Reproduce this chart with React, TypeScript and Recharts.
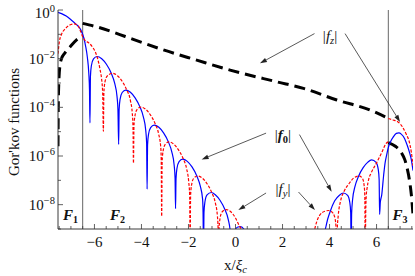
import React from 'react';
import { LineChart, Line, XAxis, YAxis, ReferenceLine, ReferenceDot } from 'recharts';

const W = 415;
const H = 276;
const FONT = '"Liberation Serif","Times New Roman",serif';
const AXIS = '#3a3a3a';

// x positions (x / xi_c) and log10 values; null = break
const f0X = [
  -7.55, -7.4, -7.2, -7.0, -6.8, -6.6, -6.45, -6.38, -6.3, -6.24, -6.21, -6.19,
  -6.17, -6.13, -6.04, -5.89, -5.69, -5.49, -5.29, -5.14, -5.04, -5.0, -4.97,
  -4.95, -4.91, -4.82, -4.67, -4.47, -4.27, -4.07, -3.92, -3.82, -3.78, -3.76,
  -3.74, -3.7, -3.61, -3.46, -3.26, -3.06, -2.86, -2.71, -2.61, -2.57, -2.55,
  -2.53, -2.49, -2.4, -2.25, -2.05, -1.85, -1.65, -1.5, -1.4, -1.38, -1.36,
  -1.34, -1.3, -1.21, -1.03, -0.86, -0.66, -0.46, -0.31, -0.22, -0.2, -0.18,
  -0.16, -0.12, -0.03, 0.1, 0.22, 0.35, 0.45, 0.55,
  3.71, 3.73, 3.77, 3.87, 4.02, 4.22, 4.42, 4.59, 4.77, 4.86, 4.9, 4.92,
  4.94, 4.98, 5.08, 5.23, 5.43, 5.63, 5.79, 5.98, 6.07, 6.11, 6.13,
  6.16, 6.22, 6.3, 6.36, 6.43, 6.51, 6.6, 6.69, 6.84, 6.95, 7.05, 7.19, 7.3, 7.4, 7.48, 7.55,
];
const f0Log = [
  -0.1, -0.15, -0.25, -0.4, -0.57, -0.78, -1.15, -1.46, -1.95, -2.6, -3.3, -4.64,
  -2.72, -2.29, -2.01, -1.91, -2.0, -2.23, -2.59, -3.01, -3.55, -4.1, -5.52,
  -4.1, -3.67, -3.39, -3.29, -3.38, -3.61, -3.97, -4.39, -4.93, -5.48, -7.36,
  -5.54, -5.11, -4.83, -4.73, -4.82, -5.05, -5.41, -5.83, -6.37, -6.92, -8.16,
  -6.94, -6.51, -6.23, -6.13, -6.22, -6.45, -6.81, -7.23, -7.77, -8.32, -10,
  -8.31, -7.88, -7.6, -7.5, -7.59, -7.82, -8.18, -8.6, -9.14, -9.69, -10,
  -9.71, -9.28, -9.05, -8.92, -8.9, -9.0, -9.25, -10,
  -10, -10, -9.4, -8.8, -8.3, -7.84, -7.61, -7.52, -7.62, -7.9, -8.33, -10,
  -8.35, -7.8, -7.26, -6.84, -6.48, -6.25, -6.16, -6.26, -6.54, -6.97, -8.4,
  -7.9, -7.6, -6.8, -6.3, -5.95, -5.62, -5.4, -5.25, -5.07, -5.05, -5.1, -5.28, -5.55, -5.85, -6.16, -6.6,
];

const fyX = [
  -7.55, -7.5, -7.4, -7.25, -7.05, -6.85, -6.7, -6.6, -6.5, -6.4, -6.24, -6.1, -5.96, -5.85, -5.76, -5.7, -5.65, -5.62,
  -5.6, -5.56, -5.46, -5.24, -5.02, -4.82, -4.62, -4.47, -4.39, -4.36, -4.34,
  -4.32, -4.28, -4.19, -4.02, -3.82, -3.62, -3.42, -3.27, -3.18, -3.16, -3.14,
  -3.12, -3.08, -2.99, -2.83, -2.63, -2.43, -2.23, -2.08, -1.99, -1.95, -1.93,
  -1.91, -1.87, -1.78, -1.61, -1.41, -1.21, -1.01, -0.86, -0.77, -0.74, -0.72,
  -0.7, -0.66, -0.57, -0.4, -0.2, 0.0, 0.15, 0.25, 0.35,
  3.2, 3.35, 3.57, 3.8, 3.97, 4.1, 4.21, 4.27, 4.3, 4.31,
  4.33, 4.37, 4.47, 4.62, 4.82, 5.02, 5.25, 5.4, 5.47, 5.5, 5.52,
  5.54, 5.56, 5.6, 5.66, 5.77, 5.99, 6.2, 6.41, 6.49,
  6.495,
  6.5, 6.7, 6.91, 7.1, 7.26, 7.4, 7.48, 7.55,
];
const fyLog = [
  -1.8, -1.35, -1.0, -0.78, -0.62, -0.57, -0.65, -0.85, -1.1, -1.25, -1.35, -1.5, -1.73, -2.05, -2.45, -2.8, -3.4, -4.98,
  -3.45, -3.0, -2.72, -2.6, -2.7, -2.93, -3.3, -3.72, -4.25, -4.8, -6.29,
  -4.8, -4.37, -4.09, -3.99, -4.08, -4.31, -4.67, -5.09, -5.63, -6.1, -8.48,
  -6.23, -5.8, -5.52, -5.42, -5.51, -5.74, -6.1, -6.52, -7.06, -7.61, -10,
  -7.63, -7.2, -6.92, -6.82, -6.91, -7.14, -7.5, -7.92, -8.46, -9.01, -10,
  -9.01, -8.58, -8.3, -8.2, -8.29, -8.55, -8.85, -9.05, -10,
  -10, -9.1, -8.45, -8.27, -8.24, -8.3, -8.48, -8.85, -9.4, -10,
  -9.0, -8.45, -7.85, -7.45, -7.15, -6.91, -6.82, -6.92, -7.2, -7.63, -10,
  -8.3, -7.66, -7.3, -6.98, -6.7, -6.3, -5.9, -5.48, -5.42,
  null,
  -4.46, -4.52, -4.6, -4.8, -5.1, -5.45, -5.85, -6.4,
];

const fzX = [
  -7.55, -7.54, -7.52, -7.47, -7.4, -7.26, -7.04, -6.76, -6.52,
  -6.51,
  -6.5, -5.91, -5.06, -4.49, -3.07, -1.65, -0.23, 1.75, 2.89, 4.31, 5.72, 6.49,
  6.495,
  6.5, 6.8, 7.05, 7.2, 7.3, 7.4, 7.48, 7.55,
];
const fzLog = [
  -5.6, -4.1, -3.1, -2.3, -2.0, -1.77, -1.52, -1.23, -1.08,
  null,
  -0.55, -0.69, -0.96, -1.16, -1.64, -2.06, -2.47, -2.95, -3.22, -3.7, -4.11, -4.45,
  null,
  -5.45, -5.6, -5.85, -6.15, -6.5, -7.0, -7.6, -8.4,
];

const xTicks = [-7.5, -7, -6.5, -6, -5.5, -5, -4.5, -4, -3.5, -3, -2.5, -2, -1.5, -1, -0.5, 0, 0.5, 1, 1.5, 2, 2.5, 3, 3.5, 4, 4.5, 5, 5.5, 6, 6.5, 7, 7.5];
const xMajor = [-6, -4, -2, 0, 2, 4, 6];
const yExps = [0, -1, -2, -3, -4, -5, -6, -7, -8, -9];
const yMajorExps = [0, -2, -4, -6, -8];
const walls = [-6.5, 6.5];

// annotations: [label, sub, x, log10 y]
const labelSpecs = [
  { sub: 'z', x: 4.02, lg: -1.27, bold: false },
  { sub: '0', x: 2.02, lg: -5.36, bold: true },
  { sub: 'y', x: 2.02, lg: -7.58, bold: false },
];
// arrows: from (x, lg) to (x, lg)
const arrowSpecs = [
  [3.36, -0.97, 1.04, -2.19],
  [4.66, -0.97, 7.0, -4.6],
  [1.3, -5.06, -1.44, -6.14],
  [2.72, -5.12, 4.09, -7.47],
  [1.3, -7.52, 0.12, -8.22],
  [2.68, -7.48, 3.38, -8.22],
];
const regionSpecs = [
  { n: '1', x: -7.02, lg: -8.64 },
  { n: '2', x: -5.02, lg: -8.64 },
  { n: '3', x: 7.0, lg: -8.64 },
];

const toData = (xs: number[], lg: (number | null)[]) =>
  xs.map((x, i) => ({ x, y: lg[i] === null ? null : Math.pow(10, lg[i] as number) }));

const f0Data = toData(f0X, f0Log);
const fyData = toData(fyX, fyLog);
const fzData = toData(fzX, fzLog);
const yTicks = yExps.map((e) => Number(`1e${e}`));
const p10 = (e: number) => Math.pow(10, e);

const expOf = (v: number) => Math.round(Math.log10(v));

const XTickBottom = (props: any) => {
  const { x, y, payload } = props;
  const v = payload.value;
  const major = xMajor.includes(v);
  return (
    <g>
      <line x1={x} x2={x} y1={y} y2={y - (major ? 5 : 3)} stroke={AXIS} strokeWidth={0.8} />
      {major && (
        <text x={x} y={y + 18} textAnchor="middle" fontFamily={FONT} fontSize={15} fill="#111">
          {v < 0 ? `\u2212${-v}` : `${v}`}
        </text>
      )}
    </g>
  );
};
const XTickTop = (props: any) => {
  const { x, y, payload } = props;
  const major = xMajor.includes(payload.value);
  return <line x1={x} x2={x} y1={y} y2={y + (major ? 5 : 3)} stroke={AXIS} strokeWidth={0.8} />;
};
const YTickLeft = (props: any) => {
  const { x, y, payload } = props;
  const e = expOf(payload.value);
  const major = yMajorExps.includes(e);
  const dy = e === 0 ? 8 : 5;
  return (
    <g>
      <line x1={x} x2={x + (major ? 5 : 3)} y1={y} y2={y} stroke={AXIS} strokeWidth={0.8} />
      {major && (
        <text x={x - 3} y={y + dy} textAnchor="end" fontFamily={FONT} fontSize={15} fill="#111">
          <tspan>10</tspan>
          <tspan dy={-6} fontSize={10.5}>{e < 0 ? `\u2212${-e}` : `${e}`}</tspan>
        </text>
      )}
    </g>
  );
};
const YTickRight = (props: any) => {
  const { x, y, payload } = props;
  const major = yMajorExps.includes(expOf(payload.value));
  return <line x1={x} x2={x - (major ? 5 : 3)} y1={y} y2={y} stroke={AXIS} strokeWidth={0.8} />;
};

const Arrow = (p: any) => {
  const { x1, y1, x2, y2 } = p;
  if ([x1, y1, x2, y2].some((v) => typeof v !== 'number' || isNaN(v))) return <g />;
  const a = Math.atan2(y2 - y1, x2 - x1);
  const L = 7;
  const w = 2.3;
  const bx = x2 - L * Math.cos(a);
  const by = y2 - L * Math.sin(a);
  const px = -Math.sin(a) * w;
  const py = Math.cos(a) * w;
  return (
    <g>
      <line x1={x1} y1={y1} x2={bx} y2={by} stroke="#222" strokeWidth={0.75} />
      <polygon points={`${x2},${y2} ${bx + px},${by + py} ${bx - px},${by - py}`} fill="#222" />
    </g>
  );
};

const makeFLabel = (sub: string, bold: boolean) => (p: any) => (
  <text x={p.cx} y={p.cy} textAnchor="middle" fontFamily={FONT} fontSize={15} fill="#111">
    <tspan>|</tspan>
    <tspan fontStyle="italic" fontWeight={bold ? 'bold' : 'normal'}>f</tspan>
    <tspan fontSize={10.5} dy={3} fontStyle={bold ? 'normal' : 'italic'} fontWeight={bold ? 'bold' : 'normal'}>{sub}</tspan>
    <tspan dy={-3}>|</tspan>
  </text>
);

const makeRegion = (n: string) => (p: any) => (
  <text x={p.cx} y={p.cy} textAnchor="middle" fontFamily={FONT} fontSize={15} fontWeight="bold" fill="#111">
    <tspan fontStyle="italic">F</tspan>
    <tspan fontSize={10} dy={3}>{n}</tspan>
  </text>
);

const YTitle = (p: any) => (
  <text
    x={19}
    y={p.cy}
    transform={`rotate(-90 19 ${p.cy})`}
    textAnchor="middle"
    fontFamily={FONT}
    fontSize={15}
    fill="#111"
  >
    Gor&#39;kov functions
  </text>
);
const XTitle = (p: any) => (
  <text x={p.cx} y={p.cy + 41} textAnchor="middle" fontFamily={FONT} fontSize={15} fill="#111">
    <tspan>x/</tspan>
    <tspan fontStyle="italic">ξ</tspan>
    <tspan fontStyle="italic" fontSize={10.5} dy={3}>c</tspan>
  </text>
);

export default function App() {
  return (
    <div style={{ position: 'absolute', left: 0, top: 0, width: W, height: H, background: '#fff' }}>
      <LineChart width={W} height={H} margin={{ top: 10, right: 2, bottom: 0, left: 0 }}>
        <XAxis
          dataKey="x"
          type="number"
          domain={[-7.55, 7.55]}
          allowDataOverflow
          ticks={xTicks}
          interval={0}
          tickSize={0}
          tickMargin={0}
          tick={XTickBottom}
          height={47}
          axisLine={{ stroke: AXIS, strokeWidth: 1 }}
          tickLine={false}
        />
        <XAxis
          xAxisId="t"
          orientation="top"
          dataKey="x"
          type="number"
          domain={[-7.55, 7.55]}
          allowDataOverflow
          ticks={xTicks}
          interval={0}
          tickSize={0}
          tickMargin={0}
          tick={XTickTop}
          height={0}
          axisLine={{ stroke: AXIS, strokeWidth: 1 }}
          tickLine={false}
        />
        <YAxis
          type="number"
          scale="log"
          domain={[1e-9, 1]}
          allowDataOverflow
          ticks={yTicks}
          interval={0}
          tickSize={0}
          tickMargin={0}
          tick={YTickLeft}
          width={58}
          axisLine={{ stroke: AXIS, strokeWidth: 1 }}
          tickLine={false}
        />
        <YAxis
          yAxisId="r"
          orientation="right"
          type="number"
          scale="log"
          domain={[1e-9, 1]}
          allowDataOverflow
          ticks={yTicks}
          interval={0}
          tickSize={0}
          tickMargin={0}
          tick={YTickRight}
          width={0}
          axisLine={{ stroke: AXIS, strokeWidth: 1 }}
          tickLine={false}
        />
        {walls.map((w) => (
          <ReferenceLine key={w} x={w} stroke="#555" strokeWidth={0.9} />
        ))}
        <Line
          data={fzData}
          dataKey="y"
          type="monotone"
          stroke="#000"
          strokeWidth={3}
          strokeDasharray="11 6"
          dot={false}
          activeDot={false}
          isAnimationActive={false}
        />
        <Line
          data={f0Data}
          dataKey="y"
          type="monotone"
          stroke="#0000ff"
          strokeWidth={1.2}
          dot={false}
          activeDot={false}
          isAnimationActive={false}
        />
        <Line
          data={fyData}
          dataKey="y"
          type="monotone"
          stroke="#ff0000"
          strokeWidth={1.2}
          strokeDasharray="3 1.6"
          dot={false}
          activeDot={false}
          isAnimationActive={false}
        />
        {arrowSpecs.map((a, i) => (
          <ReferenceLine
            key={`a${i}`}
            segment={[
              { x: a[0], y: p10(a[1]) },
              { x: a[2], y: p10(a[3]) },
            ]}
            ifOverflow="visible"
            shape={Arrow}
          />
        ))}
        {labelSpecs.map((l, i) => (
          <ReferenceDot key={`l${i}`} x={l.x} y={p10(l.lg)} r={0} ifOverflow="visible" shape={makeFLabel(l.sub, l.bold)} />
        ))}
        {regionSpecs.map((r, i) => (
          <ReferenceDot key={`r${i}`} x={r.x} y={p10(r.lg)} r={0} ifOverflow="visible" shape={makeRegion(r.n)} />
        ))}
        <ReferenceDot x={-7.55} y={p10(-4.6)} r={0} ifOverflow="visible" shape={YTitle} />
        <ReferenceDot x={0} y={1e-9} r={0} ifOverflow="visible" shape={XTitle} />
      </LineChart>
    </div>
  );
}
